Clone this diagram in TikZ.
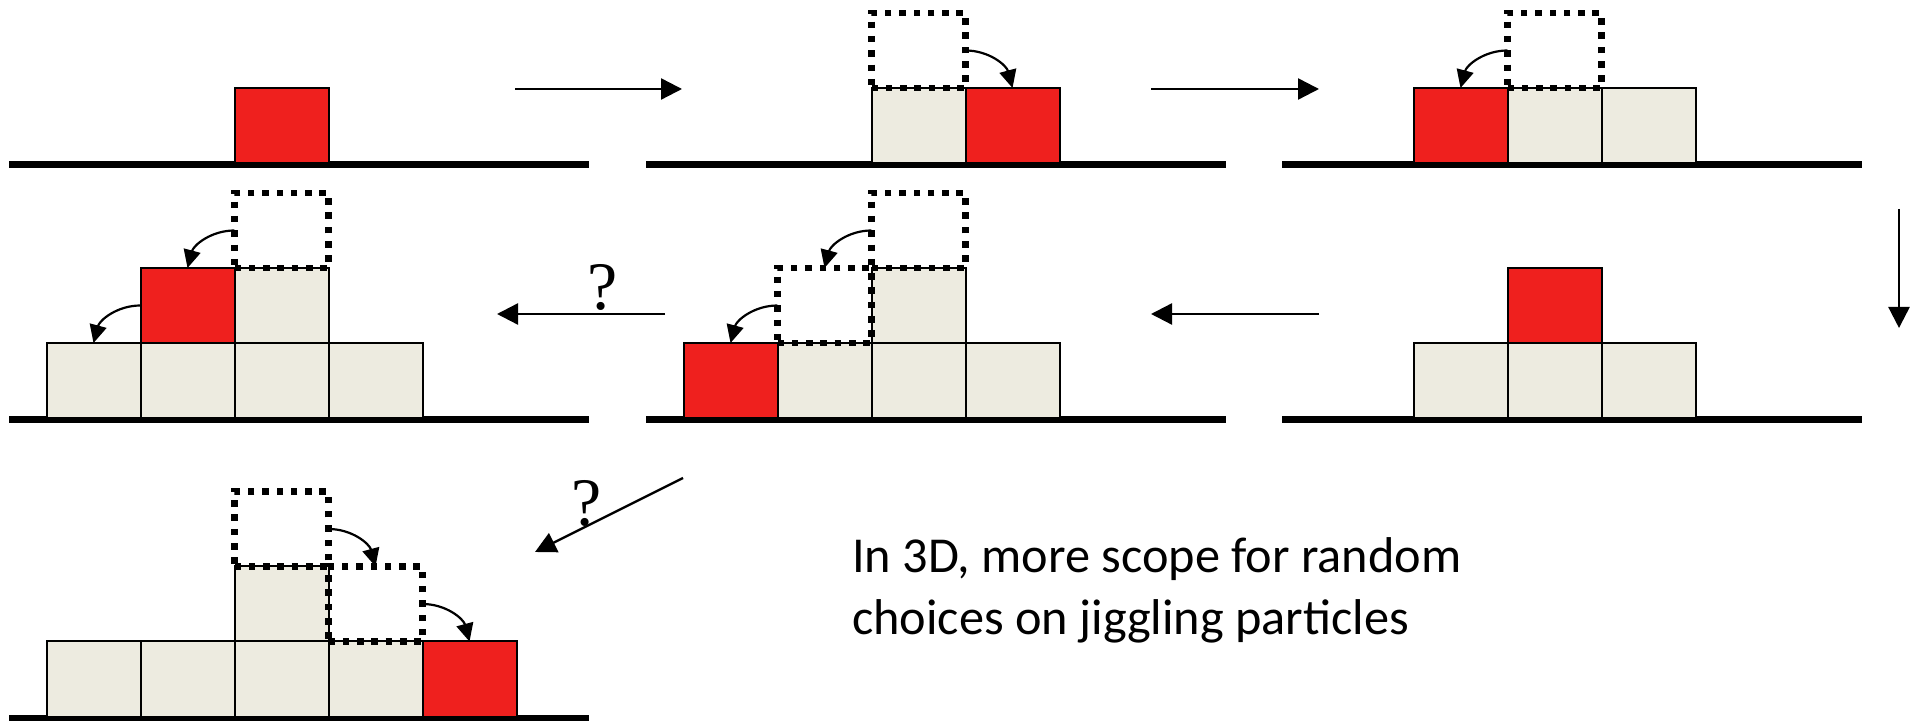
\documentclass[tikz,border=0pt]{standalone}
\usepackage{fontspec}
\setmainfont{Carlito}
\newfontfamily\qfont{Liberation Serif}
\usetikzlibrary{arrows.meta}
\definecolor{cellred}{RGB}{239,32,30}
\definecolor{cellbeige}{RGB}{237,235,224}
\begin{document}
\begin{tikzpicture}[x=1pt,y=1pt,
  cell/.style={rectangle,draw=black,line width=2pt,minimum width=94pt,minimum height=75pt,
    inner sep=0pt,outer sep=0pt,anchor=south west},
  beigebox/.style={cell,fill=cellbeige},
  redbox/.style={cell,fill=cellred},
  ghost/.style={cell,line width=6.5pt,dash pattern=on 6.5pt off 7.8pt},
  ground/.style={line width=7pt},
  flow/.style={line width=2.4pt,-{Triangle[length=21pt,width=21pt]}},
  hop/.style={line width=2.2pt,-{Triangle[length=18pt,width=17pt]}},
  qmark/.style={inner sep=0pt,anchor=base,font=\qfont\fontsize{68}{70}\selectfont}]
\useasboundingbox (0,0) rectangle (1916,720);

% ground lines
\draw[ground] (9,555.5) -- (589,555.5);
\draw[ground] (646,555.5) -- (1226,555.5);
\draw[ground] (1282,555.5) -- (1862,555.5);
\draw[ground] (9,300.5) -- (589,300.5);
\draw[ground] (646,300.5) -- (1226,300.5);
\draw[ground] (1282,300.5) -- (1862,300.5);
\draw[ground] (9,2) -- (589,2);

% stage 1
\node[redbox] (p1r) at (234.5,557) {};

% stage 2
\node[beigebox] (p2b) at (871.5,557) {};
\node[redbox] (p2r) at (965.5,557) {};
\node[ghost] (p2g) at (871.5,632) {};
\draw[hop] (p2g.east) to[out=0,in=105] (p2r.north);

% stage 3
\node[redbox] (p3r) at (1413.5,557) {};
\node[beigebox] (p3b1) at (1507.5,557) {};
\node[beigebox] (p3b2) at (1601.5,557) {};
\node[ghost] (p3g) at (1507.5,632) {};
\draw[hop] (p3g.west) to[out=180,in=75] (p3r.north);

% stage 4 (right, second row)
\node[beigebox] (p6b1) at (1413.5,302) {};
\node[beigebox] (p6b2) at (1507.5,302) {};
\node[beigebox] (p6b3) at (1601.5,302) {};
\node[redbox] (p6r) at (1507.5,377) {};

% stage 5 (middle, second row)
\node[redbox] (p5r) at (683.5,302) {};
\node[beigebox] (p5b1) at (777.5,302) {};
\node[beigebox] (p5b2) at (871.5,302) {};
\node[beigebox] (p5b3) at (965.5,302) {};
\node[beigebox] (p5b4) at (871.5,377) {};
\node[ghost] (p5g1) at (777.5,377) {};
\node[ghost] (p5g2) at (871.5,452) {};
\draw[hop] (p5g2.west) to[out=180,in=75] (p5g1.north);
\draw[hop] (p5g1.west) to[out=180,in=75] (p5r.north);

% stage 6 (left, second row)
\node[beigebox] (p4b1) at (46.5,302) {};
\node[beigebox] (p4b2) at (140.5,302) {};
\node[beigebox] (p4b3) at (234.5,302) {};
\node[beigebox] (p4b4) at (328.5,302) {};
\node[redbox] (p4r) at (140.5,377) {};
\node[beigebox] (p4b5) at (234.5,377) {};
\node[ghost] (p4g) at (234.5,452) {};
\draw[hop] (p4g.west) to[out=180,in=75] (p4r.north);
\draw[hop] (p4r.west) to[out=180,in=75] (p4b1.north);

% stage 7 (third row)
\node[beigebox] (p7b1) at (46.5,3.5) {};
\node[beigebox] (p7b2) at (140.5,3.5) {};
\node[beigebox] (p7b3) at (234.5,3.5) {};
\node[beigebox] (p7b4) at (328.5,3.5) {};
\node[redbox] (p7r) at (422.5,3.5) {};
\node[beigebox] (p7b5) at (234.5,78.5) {};
\node[ghost] (p7g2) at (234.5,153.5) {};
\node[ghost] (p7g1) at (328.5,78.5) {};
\draw[hop] (p7g2.east) to[out=0,in=105] (p7g1.north);
\draw[hop] (p7g1.east) to[out=0,in=105] (p7r.north);

% transitions between stages
\coordinate (a1s) at (515,631);  \coordinate (a1e) at (682,631);
\coordinate (a2s) at (1151,631); \coordinate (a2e) at (1319,631);
\coordinate (a3s) at (1899,511); \coordinate (a3e) at (1899,392);
\coordinate (a4s) at (1319,406); \coordinate (a4e) at (1151,406);
\coordinate (a5s) at (665,406);  \coordinate (a5e) at (497,406);
\coordinate (a6s) at (683,242);  \coordinate (a6e) at (535,168);
\draw[flow] (a1s) -- (a1e);
\draw[flow] (a2s) -- (a2e);
\draw[flow] (a3s) -- (a3e);
\draw[flow] (a4s) -- (a4e);
\draw[flow] (a5s) -- node[qmark,pos=0.37,yshift=4pt] (q1) {?} (a5e);
\draw[flow] (a6s) -- node[qmark,pos=0.65,yshift=1pt] (q2) {?} (a6e);

% caption
\node[anchor=base west,inner sep=0pt,font=\fontsize{50.3}{60}\selectfont] (t1) at (852,147) {In 3D, more scope for random};
\node[anchor=base west,inner sep=0pt,font=\fontsize{50.3}{60}\selectfont] (t2) at (852,85) {choices on jiggling particles};
\end{tikzpicture}
\end{document}
